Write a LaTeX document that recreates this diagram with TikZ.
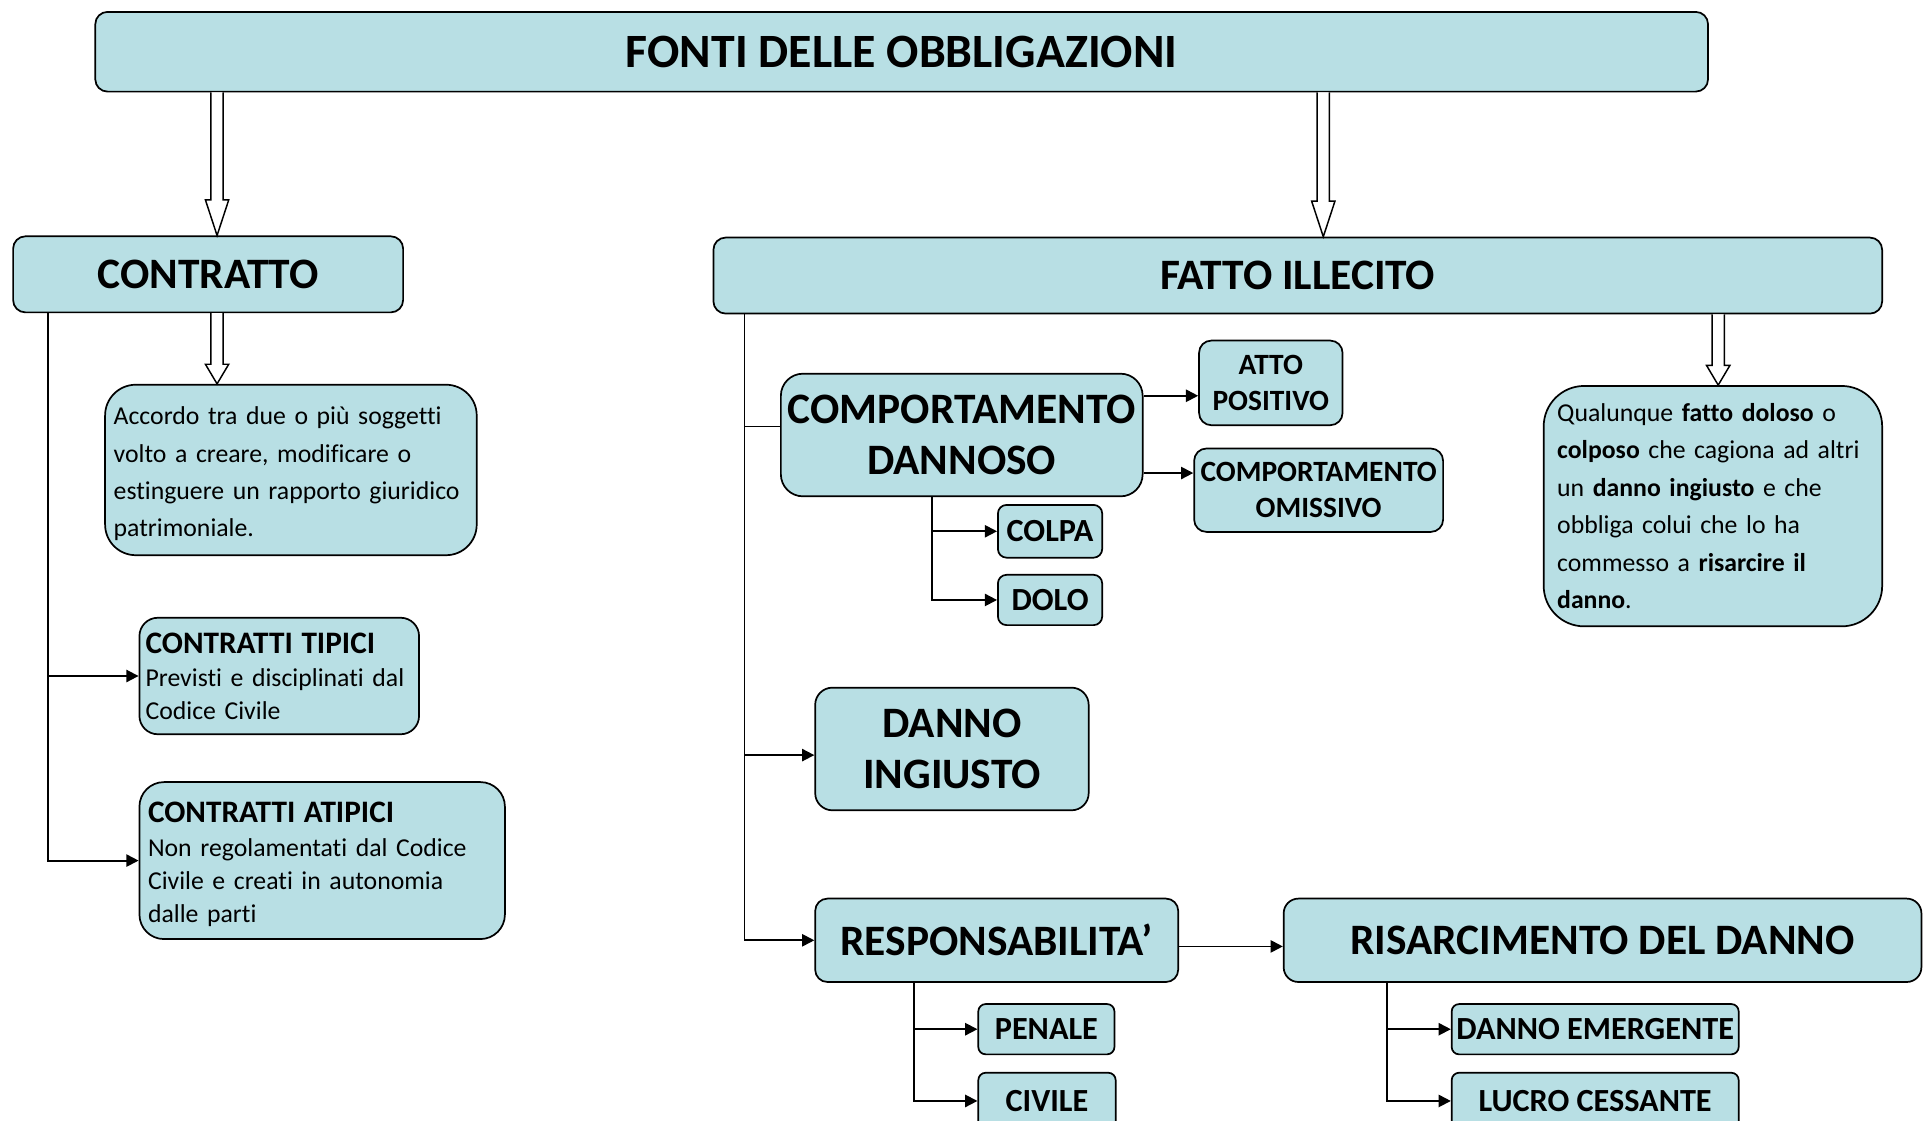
\documentclass[tikz,border=0pt]{standalone}
\usepackage{fontspec}
\setmainfont{Carlito}[Ligatures={NoCommon}]
\usetikzlibrary{arrows.meta,calc}
\definecolor{boxfill}{RGB}{184,223,228}
\newcommand\hdfont{\fontsize{35.4pt}{42pt}\selectfont\bfseries}
\newcommand\mdfont{\fontsize{24pt}{29.5pt}\selectfont\bfseries}
\newcommand\smfont{\fontsize{26.3pt}{30pt}\selectfont\bfseries}
\newcommand\bodyfont{\fontsize{21pt}{30.5pt}\selectfont}
\newcommand\hollowarr[3]{%
  \filldraw[line width=1.2pt, fill=white] let \p1=#1, \p2=#2 in
    (\x1-5pt,\y1) -- (\x1-5pt,\y2+#3) -- (\x1-9.5pt,\y2+#3) -- (\x1,\y2)
    -- (\x1+9.5pt,\y2+#3) -- (\x1+5pt,\y2+#3) -- (\x1+5pt,\y1);}
\tikzset{
  box/.style={draw=black, line width=1.4pt, fill=boxfill, rounded corners=#1,
    inner sep=0pt, anchor=north west, align=center},
  box/.default=10pt,
  conn/.style={line width=1.5pt, -{Triangle[length=10pt,width=10pt]}},
  ln/.style={line width=1.5pt},
}
\begin{document}
\begin{tikzpicture}[x=1pt,y=-1pt]
\useasboundingbox (0,0) rectangle (1568,914);
\begin{scope}
\clip (0,0) rectangle (1568,914);
% boxes
\node[box=10pt, minimum width=1315pt, minimum height=65pt,
  font=\fontsize{39pt}{44pt}\selectfont\bfseries, xshift=-4pt] (title) at (81,9) {FONTI DELLE OBBLIGAZIONI};
\node[box=10pt, minimum width=318pt, minimum height=62pt, font=\hdfont] (contr) at (10,192) {CONTRATTO};
\node[box=10pt, minimum width=953pt, minimum height=62pt, font=\hdfont] (fatto) at (581,193) {FATTO ILLECITO};
\node[box=25pt, text width=289pt, inner xsep=7pt, minimum height=139pt, align=left, font=\bodyfont]
  (accordo) at (85,313) {\rule{0pt}{21pt}Accordo tra due o più soggetti\\ volto a creare, modificare o\\ estinguere un rapporto giuridico\\ patrimoniale.};
\node[box=15pt, text width=218pt, inner xsep=5pt, minimum height=95pt, align=left,
  font=\fontsize{21pt}{27pt}\selectfont] (tipici) at (113,503)
  {{\fontsize{25.5pt}{27pt}\selectfont\bfseries CONTRATTI TIPICI}\\ Previsti e disciplinati dal\\ Codice Civile};
\node[box=20pt, text width=284pt, inner xsep=7pt, minimum height=128pt, align=left,
  font=\fontsize{21pt}{27pt}\selectfont] (atipici) at (113,637)
  {\rule{0pt}{23pt}{\fontsize{25.5pt}{27pt}\selectfont\bfseries CONTRATTI ATIPICI}\\[1pt] Non regolamentati dal Codice\\ Civile e creati in autonomia\\ dalle parti};
\node[box=18pt, minimum width=295pt, minimum height=100pt, font=\hdfont] (comp) at (636,304) {COMPORTAMENTO\\DANNOSO};
\node[box=10pt, minimum width=117pt, minimum height=69pt, font=\mdfont] (atto) at (977,277) {ATTO\\POSITIVO};
\node[box=10pt, minimum width=203pt, minimum height=68pt, font=\mdfont] (omis) at (973,365) {COMPORTAMENTO\\OMISSIVO};
\node[box=7pt, minimum width=85pt, minimum height=43pt, font=\smfont] (colpa) at (813,411) {COLPA};
\node[box=7pt, minimum width=85pt, minimum height=41pt, font=\smfont] (dolo) at (813,468) {DOLO};
\node[box=33pt, text width=254pt, inner xsep=11pt, minimum height=196pt, align=left, font=\bodyfont]
  (qual) at (1258,314) {Qualunque \textbf{fatto doloso} o\\ \textbf{colposo} che cagiona ad altri\\ un \textbf{danno ingiusto} e che\\ obbliga colui che lo ha\\ commesso a \textbf{risarcire il}\\ \textbf{danno}.};
\node[box=14pt, minimum width=223pt, minimum height=100pt, font=\hdfont] (danno) at (664,560) {DANNO\\INGIUSTO};
\node[box=10pt, minimum width=296pt, minimum height=68pt, font=\hdfont] (resp) at (664,732) {RESPONSABILITA’};
\node[box=12pt, minimum width=520pt, minimum height=68pt, font=\hdfont] (risarc) at (1046,732) {RISARCIMENTO DEL DANNO};
\node[box=6pt, minimum width=111pt, minimum height=41pt, font=\smfont] (penale) at (797,818) {PENALE};
\node[box=6pt, minimum width=112pt, minimum height=46pt, font=\smfont] (civile) at (797,874) {CIVILE};
\node[box=6pt, minimum width=234pt, minimum height=41pt, font=\smfont] (emerg) at (1183,818) {DANNO EMERGENTE};
\node[box=6pt, minimum width=234pt, minimum height=46pt, font=\smfont] (lucro) at (1183,874) {LUCRO CESSANTE};
% hollow arrows
\hollowarr{([xshift=100pt]title.south west)}{([xshift=167pt]contr.north west)}{29pt}
\hollowarr{([xshift=1002pt]title.south west)}{([xshift=498pt]fatto.north west)}{29pt}
\hollowarr{([xshift=167pt]contr.south west)}{([xshift=92pt]accordo.north west)}{16pt}
\hollowarr{([xshift=820pt]fatto.south west)}{([xshift=143pt]qual.north west)}{16pt}
% connectors
\draw[conn] ([xshift=29pt]contr.south west) |- (tipici.west);
\draw[conn] ([xshift=29pt]contr.south west) |- (atipici.west);
\draw[ln] ([xshift=26pt]fatto.south west) |- ([yshift=7pt]comp.west);
\draw[conn] ([xshift=26pt]fatto.south west) |- ([yshift=-5pt]danno.west);
\draw[conn] ([xshift=26pt]fatto.south west) |- (resp.west);
\draw[conn] ([yshift=32pt]comp.east) -- ([yshift=-10.5pt]atto.west);
\draw[conn] ([yshift=-31pt]comp.east) -- ([yshift=14pt]omis.west);
\draw[conn] ([xshift=124pt]comp.south west) |- (colpa.west);
\draw[conn] ([xshift=124pt]comp.south west) |- (dolo.west);
\draw[conn] ([yshift=-5pt]resp.east) -- ([yshift=-5pt]risarc.west);
\draw[conn] ([xshift=81pt]resp.south west) |- (penale.west);
\draw[conn] ([xshift=81pt]resp.south west) |- (civile.west);
\draw[conn] ([xshift=85pt]risarc.south west) |- (emerg.west);
\draw[conn] ([xshift=85pt]risarc.south west) |- (lucro.west);
\end{scope}
\end{tikzpicture}
\end{document}
